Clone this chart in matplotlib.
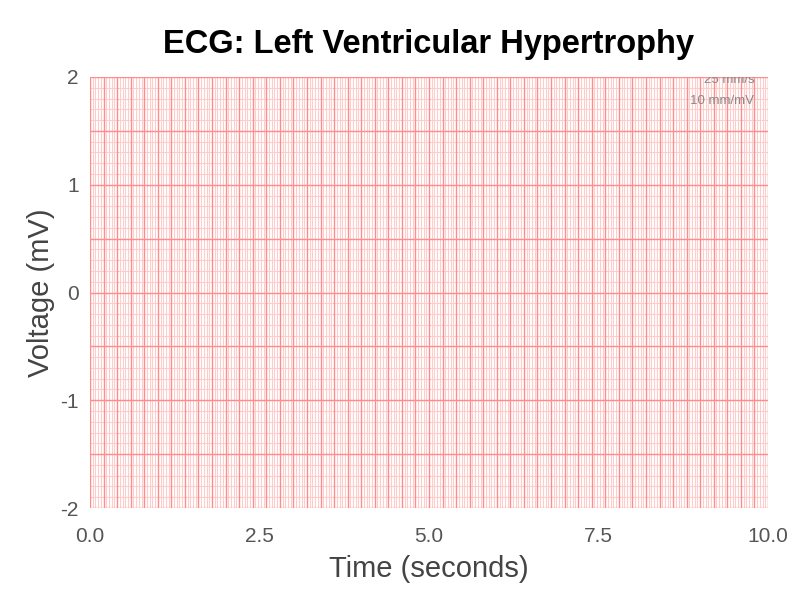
import numpy as np
import matplotlib
matplotlib.use('Agg')
import matplotlib.pyplot as plt

plt.rcParams['font.family'] = ['Liberation Sans', 'DejaVu Sans']

title = "ECG: Left Ventricular Hypertrophy"
x_ticks = [0.0, 2.5, 5.0, 7.5, 10.0]
x_ticklabels = ["0.0", "2.5", "5.0", "7.5", "10.0"]
y_ticks = [-2, -1, 0, 1, 2]
y_ticklabels = ["-2", "-1", "0", "1", "2"]
calib_text = ["25 mm/s", "10 mm/mV"]

fig = plt.figure(figsize=(8, 6), dpi=100)
ax = fig.add_axes([90/800, 1 - 508/600, 678/800, 431/600])
ax.set_xlim(0, 10)
ax.set_ylim(-2, 2)

# ecg paper grid: small boxes 0.04 s / 0.1 mV, big boxes 0.2 s / 0.5 mV
for x in np.arange(0, 10.0001, 0.04):
    if abs(x / 0.2 - round(x / 0.2)) < 1e-6:
        continue
    ax.axvline(x, color='#ffcccc', lw=0.8, zorder=0)
for y in np.arange(-2, 2.0001, 0.1):
    if abs(y / 0.5 - round(y / 0.5)) < 1e-6:
        continue
    ax.axhline(y, color='#ffcccc', lw=0.8, zorder=0)
for x in np.arange(0, 10.0001, 0.2):
    ax.axvline(x, color='#ff8c8c', lw=1.0, zorder=1)
for y in np.arange(-2, 2.0001, 0.5):
    ax.axhline(y, color='#ff8c8c', lw=1.0, zorder=1)

for s in ax.spines.values():
    s.set_visible(False)

ax.set_xticks(x_ticks)
ax.set_xticklabels(x_ticklabels)
ax.set_yticks(y_ticks)
ax.set_yticklabels(y_ticklabels)
ax.tick_params(axis='x', length=0, labelsize=15, colors='#555555', pad=14)
ax.tick_params(axis='y', length=0, labelsize=15, colors='#555555', pad=8)

ax.set_xlabel("Time (seconds)", fontsize=21, color='#444444', labelpad=6)
ax.set_ylabel("Voltage (mV)", fontsize=21, color='#444444', labelpad=4)
fig.text(0.536, 0.925, title, fontsize=23.5, fontweight='bold', ha='center', va='center')

ax.text(9.8, 2.03, calib_text[0], fontsize=9.5, color='#888888', ha='right', va='top', clip_on=True)
ax.text(9.8, 1.78, calib_text[1], fontsize=9.5, color='#888888', ha='right', va='center')

fig.savefig('out.png', dpi=100)
